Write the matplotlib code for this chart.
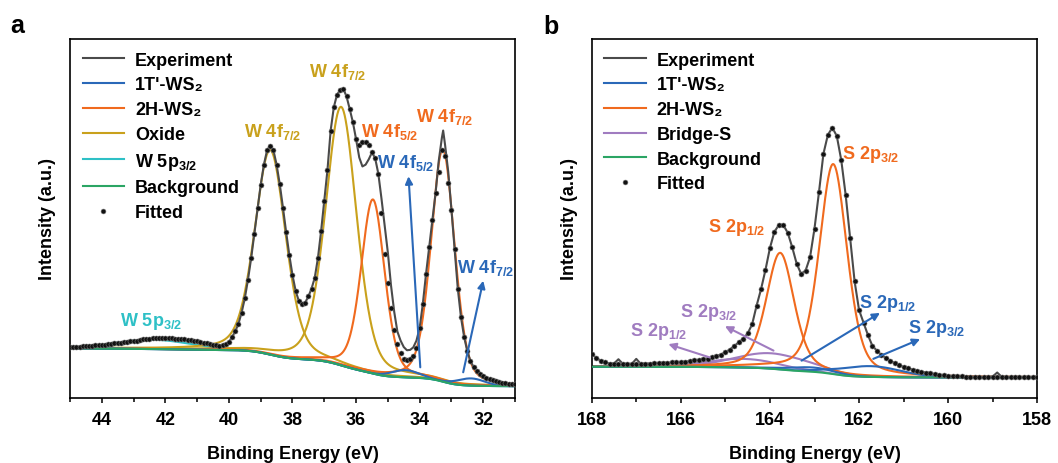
import numpy as np
import matplotlib
matplotlib.use('Agg')
import matplotlib.pyplot as plt
from matplotlib.lines import Line2D
from matplotlib.ticker import MultipleLocator

plt.rcParams['font.family'] = ['Liberation Sans', 'DejaVu Sans']
plt.rcParams['font.weight'] = 'bold'
plt.rcParams['axes.labelweight'] = 'bold'
plt.rcParams['mathtext.fontset'] = 'custom'
plt.rcParams['mathtext.rm'] = 'Liberation Sans:bold'
plt.rcParams['mathtext.it'] = 'Liberation Sans:bold'
plt.rcParams['mathtext.bf'] = 'Liberation Sans:bold'
plt.rcParams['mathtext.default'] = 'rm'

GRAY = '#4a4a4a'
BLUE = '#2a68b8'
ORANGE = '#f06a1e'
GOLD = '#c9a11c'
CYAN = '#2ec0c6'
GREEN = '#2ba564'
PURPLE = '#a07cc0'

# panel a, W 4f region: peak centre (eV), height above background, FWHM (eV)
a_oxide_pos = [38.70, 36.47]
a_oxide_h = [0.57, 0.72]
a_oxide_w = [1.15, 1.15]
a_2h_pos = [35.47, 33.27]
a_2h_h = [0.485, 0.647]
a_2h_w = [0.87, 0.87]
a_1t_pos = [34.45, 32.38]
a_1t_h = [0.02, 0.02]
a_1t_w = [1.0, 1.0]
a_5p_pos = [42.4]
a_5p_h = [0.026]
a_5p_w = [2.8]
a_bg_hi, a_bg_lo = 0.138, 0.033

# measured spectrum, panel a, 45.0 -> 31.0 eV every 0.1 eV
a_exp_I = [0.141, 0.142, 0.142, 0.143, 0.144, 0.145, 0.145, 0.146, 0.147, 0.147,
           0.148, 0.149, 0.150, 0.151, 0.152, 0.153, 0.154, 0.155, 0.157, 0.158,
           0.159, 0.160, 0.162, 0.163, 0.164, 0.165, 0.166, 0.166, 0.166, 0.166,
           0.166, 0.166, 0.166, 0.165, 0.165, 0.164, 0.163, 0.162, 0.161, 0.160,
           0.158, 0.156, 0.154, 0.152, 0.150, 0.148, 0.147, 0.146, 0.148, 0.151,
           0.156, 0.170, 0.186, 0.207, 0.238, 0.278, 0.330, 0.390, 0.458, 0.528,
           0.594, 0.650, 0.690, 0.703, 0.690, 0.650, 0.595, 0.530, 0.462, 0.398,
           0.342, 0.298, 0.270, 0.262, 0.266, 0.283, 0.305, 0.335, 0.390, 0.465,
           0.550, 0.635, 0.745, 0.810, 0.845, 0.858, 0.861, 0.840, 0.805, 0.768,
           0.721, 0.670, 0.645, 0.650, 0.665, 0.684, 0.668, 0.625, 0.555, 0.480,
           0.405, 0.313, 0.240, 0.185, 0.160, 0.142, 0.133, 0.134, 0.141, 0.160,
           0.195, 0.262, 0.345, 0.420, 0.495, 0.570, 0.660, 0.725, 0.705, 0.630,
           0.525, 0.415, 0.305, 0.225, 0.170, 0.130, 0.103, 0.086, 0.076, 0.068,
           0.062, 0.057, 0.052, 0.049, 0.046, 0.044, 0.042, 0.041, 0.040, 0.039,
           0.038]
a_exp_extra = {33.26: 0.745}
# fitted points that sit off the measured line
a_fit_fix = {35.9: 0.705, 35.8: 0.712, 35.7: 0.712, 35.6: 0.705, 35.2: 0.515,
             35.1: 0.400, 35.0: 0.320, 34.9: 0.250, 34.8: 0.190, 34.7: 0.150,
             34.6: 0.125, 34.5: 0.110, 34.4: 0.107, 34.3: 0.109, 34.2: 0.118,
             34.1: 0.140, 33.4: 0.630, 33.3: 0.690, 33.2: 0.675, 33.1: 0.600}

# panel b, S 2p region
b_2h_pos = [163.77, 162.58]
b_2h_h = [0.325, 0.585]
b_2h_w = [0.74, 0.74]
b_br_pos = [163.95, 164.6]
b_br_h = [0.043, 0.024]
b_br_w = [2.0, 1.9]
b_1t_pos = [161.75, 163.05]
b_1t_h = [0.03, 0.012]
b_1t_w = [1.6, 1.2]
b_bg_hi, b_bg_lo = 0.087, 0.057

# measured spectrum, panel b, 168.0 -> 158.0 eV every 0.1 eV
b_exp_I = [0.123, 0.112, 0.104, 0.099, 0.096, 0.096, 0.108, 0.095, 0.095, 0.095,
           0.109, 0.095, 0.096, 0.096, 0.097, 0.097, 0.098, 0.098, 0.099, 0.099,
           0.100, 0.101, 0.103, 0.105, 0.106, 0.108, 0.110, 0.113, 0.117, 0.121,
           0.128, 0.135, 0.145, 0.155, 0.165, 0.180, 0.205, 0.257, 0.303, 0.357,
           0.418, 0.463, 0.482, 0.482, 0.460, 0.420, 0.374, 0.346, 0.355, 0.392,
           0.472, 0.573, 0.680, 0.733, 0.753, 0.730, 0.663, 0.565, 0.445, 0.325,
           0.245, 0.210, 0.175, 0.145, 0.132, 0.120, 0.112, 0.104, 0.097, 0.091,
           0.087, 0.083, 0.079, 0.076, 0.073, 0.071, 0.069, 0.067, 0.065, 0.063,
           0.062, 0.061, 0.060, 0.060, 0.059, 0.059, 0.059, 0.058, 0.058, 0.058,
           0.060, 0.071, 0.059, 0.058, 0.058, 0.058, 0.058, 0.058, 0.058, 0.058,
           0.058]
b_exp_extra = {}
b_fit_fix = {167.4: 0.096, 167.0: 0.095, 159.0: 0.058, 158.9: 0.058}


def pv(x, c, h, w, eta):
    t = ((x - c) / w) ** 2
    return h * ((1 - eta) * np.exp(-4 * np.log(2) * t) + eta / (1 + 4 * t))


def shirley(x, total, hi, lo):
    xs, ps = x[::-1], total[::-1]
    cum = np.concatenate([[0], np.cumsum(0.5 * (ps[1:] + ps[:-1]) * np.diff(xs))])
    return (lo + (hi - lo) * cum / cum[-1])[::-1]


def build(x, groups, hi, lo):
    comps = []
    for pos, h, w, eta, col in groups:
        for c, hh, ww in zip(pos, h, w):
            comps.append((pv(x, c, hh, ww, eta), col))
    total = sum(c for c, _ in comps)
    return comps, shirley(x, total, hi, lo)


xa = np.linspace(45.0, 31.0, 1401)
a_comps, a_bg = build(xa, [
    (a_5p_pos, a_5p_h, a_5p_w, 0.0, CYAN),
    (a_oxide_pos, a_oxide_h, a_oxide_w, 0.3, GOLD),
    (a_2h_pos, a_2h_h, a_2h_w, 0.3, ORANGE),
    (a_1t_pos, a_1t_h, a_1t_w, 0.0, BLUE)], a_bg_hi, a_bg_lo)

xb = np.linspace(168.0, 158.0, 1001)
b_comps, b_bg = build(xb, [
    (b_br_pos, b_br_h, b_br_w, 0.0, PURPLE),
    (b_2h_pos, b_2h_h, b_2h_w, 0.4, ORANGE),
    (b_1t_pos, b_1t_h, b_1t_w, 0.0, BLUE)], b_bg_hi, b_bg_lo)

a_E = np.round(np.linspace(45.0, 31.0, len(a_exp_I)), 2)
b_E = np.round(np.linspace(168.0, 158.0, len(b_exp_I)), 2)

fig = plt.figure(figsize=(10.58, 4.64), dpi=100)
ax1 = fig.add_axes([70 / 1058, 65 / 464, 445 / 1058, 359 / 464])
ax2 = fig.add_axes([591.7 / 1058, 65 / 464, 445.6 / 1058, 359 / 464])


def draw(ax, x, comps, bg, E, exp_I, extra, fix, xlim):
    for y, col in comps:
        ax.plot(x, y + bg, color=col, lw=1.5, zorder=2)
    ax.plot(x, bg, color=GREEN, lw=1.5, zorder=3)
    line = sorted(list(zip(E, exp_I)) + list(extra.items()), reverse=True)
    ax.plot([p[0] for p in line], [p[1] for p in line], color=GRAY, lw=1.5, zorder=4)
    fit_I = [fix.get(e, v) for e, v in zip(E, exp_I)]
    ax.scatter(E, fit_I, s=13, c='#111111', edgecolors='#777777', linewidths=0.4, zorder=5)
    ax.set_xlim(*xlim)
    ax.set_ylim(0, 1)
    ax.set_yticks([])
    ax.xaxis.set_major_locator(MultipleLocator(2))
    ax.xaxis.set_minor_locator(MultipleLocator(1))
    ax.tick_params(axis='x', which='major', direction='out', length=3.5, width=1.1,
                   labelsize=13, pad=6)
    ax.tick_params(axis='x', which='minor', direction='out', length=2.8, width=1.1)
    for s in ax.spines.values():
        s.set_linewidth(1.2)
    ax.set_xlabel('Binding Energy (eV)', fontsize=13, labelpad=12)
    ax.set_ylabel('Intensity (a.u.)', fontsize=13, labelpad=10)


draw(ax1, xa, a_comps, a_bg, a_E, a_exp_I, a_exp_extra, a_fit_fix, (45, 31))
draw(ax2, xb, b_comps, b_bg, b_E, b_exp_I, b_exp_extra, b_fit_fix, (168, 158))


def legend(ax, items):
    handles = []
    for lab, col in items:
        if col is None:
            handles.append(Line2D([], [], ls='none', marker='o', ms=3.5, mfc='#111111',
                                  mec='#777777', mew=0.4, label=lab))
        else:
            handles.append(Line2D([], [], color=col, lw=1.5, label=lab))
    ax.legend(handles=handles, loc='upper left', frameon=False, fontsize=13,
              handlelength=2.3, handletextpad=0.6, labelspacing=0.43,
              borderaxespad=0.3, borderpad=0.4)


legend(ax1, [('Experiment', GRAY), ("1T'-WS\u2082", BLUE), ('2H-WS\u2082', ORANGE),
             ('Oxide', GOLD), ('W 5p$_{3/2}$', CYAN), ('Background', GREEN), ('Fitted', None)])
legend(ax2, [('Experiment', GRAY), ("1T'-WS\u2082", BLUE), ('2H-WS\u2082', ORANGE),
             ('Bridge-S', PURPLE), ('Background', GREEN), ('Fitted', None)])

# peak labels
for ax, txt, x, y, col in [
        (ax1, 'W 4f$_{7/2}$', 38.62, 0.744, GOLD),
        (ax1, 'W 4f$_{7/2}$', 36.58, 0.911, GOLD),
        (ax1, 'W 4f$_{5/2}$', 34.95, 0.744, ORANGE),
        (ax1, 'W 4f$_{5/2}$', 34.43, 0.657, BLUE),
        (ax1, 'W 4f$_{7/2}$', 33.22, 0.785, ORANGE),
        (ax1, 'W 4f$_{7/2}$', 31.91, 0.365, BLUE),
        (ax1, 'W 5p$_{3/2}$', 42.45, 0.217, CYAN),
        (ax2, 'S 2p$_{3/2}$', 161.75, 0.68, ORANGE),
        (ax2, 'S 2p$_{1/2}$', 164.74, 0.479, ORANGE),
        (ax2, 'S 2p$_{3/2}$', 165.37, 0.24, PURPLE),
        (ax2, 'S 2p$_{1/2}$', 166.49, 0.189, PURPLE),
        (ax2, 'S 2p$_{1/2}$', 161.37, 0.267, BLUE),
        (ax2, 'S 2p$_{3/2}$', 160.25, 0.195, BLUE)]:
    ax.text(x, y, txt, color=col, fontsize=13, ha='center', va='center', zorder=6)

for ax, x0, y0, x1, y1, col in [
        (ax1, 33.98, 0.0855, 34.35, 0.6175, BLUE),
        (ax1, 32.63, 0.0716, 32.0, 0.3267, BLUE),
        (ax2, 163.92, 0.132, 165.01, 0.2, PURPLE),
        (ax2, 165.35, 0.113, 166.28, 0.15, PURPLE),
        (ax2, 163.29, 0.104, 161.53, 0.237, BLUE),
        (ax2, 161.68, 0.109, 160.63, 0.164, BLUE)]:
    ax.annotate('', xy=(x1, y1), xytext=(x0, y0), zorder=6,
                arrowprops=dict(arrowstyle='-|>', color=col, lw=1.5, mutation_scale=11,
                                shrinkA=0, shrinkB=0))

fig.text(17 / 1058, 1 - 26 / 464, 'a', fontsize=18, ha='center', va='center')
fig.text(550.5 / 1058, 1 - 27 / 464, 'b', fontsize=18, ha='center', va='center')

fig.savefig('out.png', dpi=100)
